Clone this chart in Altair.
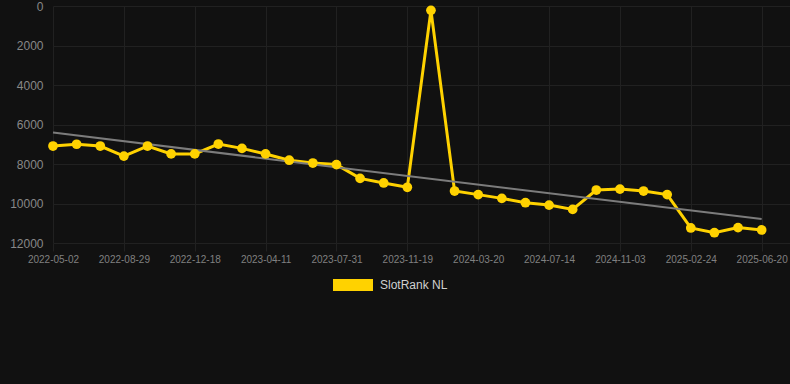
import json
import altair as alt
import pandas as pd

# ---- data ----
dates = [
    "2022-05-02", "2022-06-10", "2022-07-20", "2022-08-29", "2022-10-05", "2022-11-11",
    "2022-12-18", "2023-01-25", "2023-03-04", "2023-04-11", "2023-05-18", "2023-06-24",
    "2023-07-31", "2023-09-06", "2023-10-13", "2023-11-19", "2023-12-29", "2024-02-08",
    "2024-03-20", "2024-04-28", "2024-06-05", "2024-07-14", "2024-08-20", "2024-09-27",
    "2024-11-03", "2024-12-14", "2025-01-19", "2025-02-24", "2025-04-03", "2025-05-12",
    "2025-06-20",
]
ranks = [
    7090, 7000, 7090, 7600, 7090, 7490, 7490, 6990, 7210, 7490, 7810, 7950, 8030,
    8730, 8960, 9180, 220, 9370, 9550, 9740, 9960, 10080, 10300, 9320, 9270, 9370,
    9550, 11240, 11480, 11220, 11340,
]
trend_idx = [0, 30]
trend_values = [6410, 10790]
tick_idx = [0, 3, 6, 9, 12, 15, 18, 21, 24, 27, 30]
y_ticks = [0, 2000, 4000, 6000, 8000, 10000, 12000]
series_name = "SlotRank NL"

YELLOW = "#FFD200"
BG = "#111111"
GRID = "#212121"
FONT = "Liberation Sans"

df = pd.DataFrame({
    "idx": list(range(len(dates))),
    "date": dates,
    "rank": ranks,
    "series": [series_name] * len(dates),
})
trend = pd.DataFrame({"idx": trend_idx, "rank": trend_values})

label_expr = json.dumps(dates) + "[datum.value]"

x = alt.X(
    "idx:Q",
    scale=alt.Scale(domain=[0, 31.2], nice=False, zero=False),
    axis=alt.Axis(
        values=tick_idx, labelExpr=label_expr, title=None, labelFlush=False,
        labelOverlap=False, domain=False, tickColor=GRID, tickSize=8,
        labelPadding=3, labelFontSize=10, labelColor="#808080", labelFont=FONT,
        gridColor=GRID,
    ),
)
y = alt.Y(
    "rank:Q",
    scale=alt.Scale(domain=[0, 12000], reverse=True, nice=False, zero=True),
    axis=alt.Axis(
        values=y_ticks, tickCount=7, title=None, domain=False, ticks=False,
        labelPadding=10, labelFontSize=12, labelColor="#888888", labelFont=FONT,
        gridColor=GRID, labelOverlap=False, format="d", labelFlush=False,
    ),
)

color = alt.Color(
    "series:N",
    scale=alt.Scale(domain=[series_name], range=[YELLOW]),
    legend=alt.Legend(
        title=None, orient="none", legendX=280, legendY=259, padding=0,
        symbolType="M-1,-0.3H1V0.3H-1Z", symbolSize=1600, symbolFillColor=YELLOW,
        symbolStrokeWidth=0, symbolOpacity=1, labelOffset=7, labelFontSize=12,
        labelColor="#d0d0d0", labelFont=FONT,
    ),
)

trend_line = alt.Chart(trend).mark_line(color="#7c7c7c", strokeWidth=2).encode(
    x=x, y=y
)
line = alt.Chart(df).mark_line(strokeWidth=3).encode(x=x, y=y, color=color)
points = alt.Chart(df).mark_point(filled=True, size=95, opacity=1).encode(
    x=x, y=y, color=color
)

chart = (
    alt.layer(line, trend_line, points)
    .properties(
        width=737, height=237,
        autosize=alt.AutoSizeParams(type="none"),
        padding={"left": 53, "top": 6, "right": 0, "bottom": 141},
        background=BG,
    )
    .configure_view(stroke=None)
)

chart.save("out.html", embed_options={"renderer": "svg", "actions": False})
